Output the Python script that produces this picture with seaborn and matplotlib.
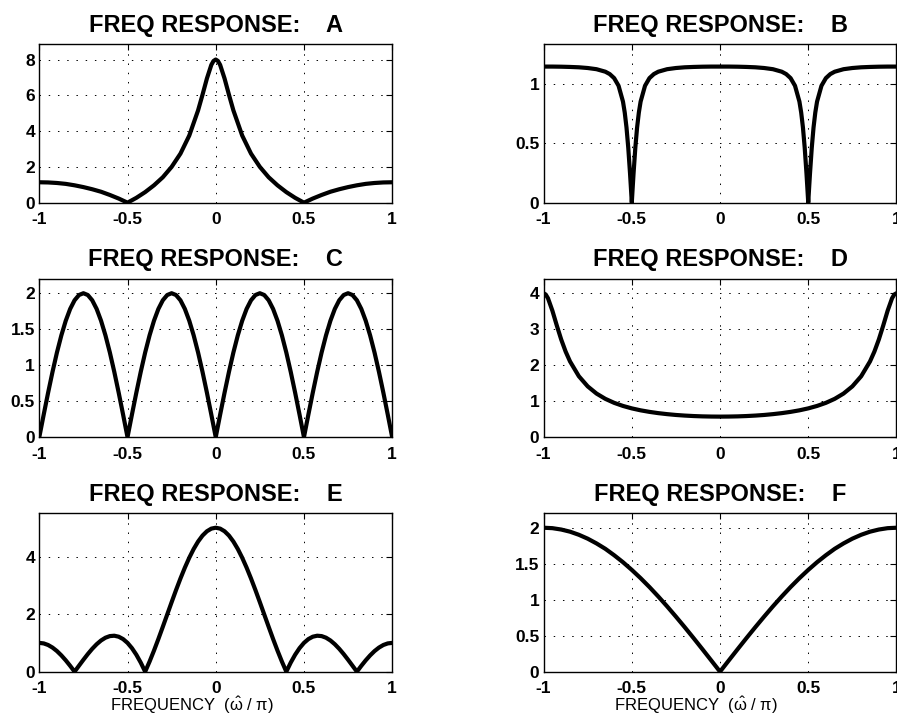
import matplotlib
matplotlib.use("Agg")
import matplotlib.pyplot as plt
import seaborn as sns

# --- values (frequency in units of pi) ---
freq_a = [-1, -0.95, -0.9, -0.85, -0.8, -0.75, -0.7, -0.65, -0.6, -0.55, -0.5,
          -0.45, -0.4, -0.35, -0.3, -0.25, -0.2, -0.15, -0.1, -0.075, -0.05,
          -0.025, -0.0125, 0, 0.0125, 0.025, 0.05, 0.075, 0.1, 0.15, 0.2, 0.25,
          0.3, 0.35, 0.4, 0.45, 0.5, 0.55, 0.6, 0.65, 0.7, 0.75, 0.8, 0.85, 0.9,
          0.95, 1]
mag_a = [1.14, 1.13, 1.10, 1.05, 0.97, 0.87, 0.75, 0.61, 0.43, 0.23, 0.00,
         0.27, 0.59, 0.97, 1.42, 2.00, 2.74, 3.75, 5.16, 6.03, 6.94,
         7.70, 7.92, 8.00, 7.92, 7.70, 6.94, 6.03, 5.16, 3.75, 2.74, 2.00,
         1.42, 0.97, 0.59, 0.27, 0.00, 0.23, 0.43, 0.61, 0.75, 0.87, 0.97, 1.05, 1.10,
         1.13, 1.14]

freq_b = [-1, -0.95, -0.9, -0.85, -0.8, -0.75, -0.7, -0.65, -0.625, -0.6, -0.575,
          -0.55, -0.54, -0.53, -0.52, -0.51, -0.505, -0.5, -0.495, -0.49, -0.48,
          -0.47, -0.46, -0.45, -0.425, -0.4, -0.375, -0.35, -0.3, -0.25, -0.2,
          -0.15, -0.1, -0.05, 0, 0.05, 0.1, 0.15, 0.2, 0.25, 0.3, 0.35, 0.375,
          0.4, 0.425, 0.45, 0.46, 0.47, 0.48, 0.49, 0.495, 0.5, 0.505, 0.51, 0.52,
          0.53, 0.54, 0.55, 0.575, 0.6, 0.625, 0.65, 0.7, 0.75, 0.8, 0.85, 0.9,
          0.95, 1]
mag_b = [1.143, 1.143, 1.142, 1.140, 1.137, 1.131, 1.121, 1.100, 1.080, 1.046, 0.982,
         0.849, 0.757, 0.631, 0.461, 0.246, 0.125, 0.000, 0.125, 0.246, 0.461,
         0.631, 0.757, 0.849, 0.982, 1.046, 1.080, 1.100, 1.121, 1.131, 1.137,
         1.140, 1.142, 1.143, 1.143, 1.143, 1.142, 1.140, 1.137, 1.131, 1.121, 1.100, 1.080,
         1.046, 0.982, 0.849, 0.757, 0.631, 0.461, 0.246, 0.125, 0.000, 0.125, 0.246, 0.461,
         0.631, 0.757, 0.849, 0.982, 1.046, 1.080, 1.100, 1.121, 1.131, 1.137, 1.140, 1.142,
         1.143, 1.143]

freq_grid = [-1, -0.95, -0.9, -0.85, -0.8, -0.75, -0.7, -0.65, -0.6, -0.55, -0.5,
             -0.45, -0.4, -0.35, -0.3, -0.25, -0.2, -0.15, -0.1, -0.05, 0,
             0.05, 0.1, 0.15, 0.2, 0.25, 0.3, 0.35, 0.4, 0.45, 0.5,
             0.55, 0.6, 0.65, 0.7, 0.75, 0.8, 0.85, 0.9, 0.95, 1]

freq_fine = [-1, -0.975, -0.95, -0.925, -0.9, -0.875, -0.85, -0.825, -0.8, -0.775,
             -0.75, -0.725, -0.7, -0.675, -0.65, -0.625, -0.6, -0.575, -0.55, -0.525,
             -0.5, -0.475, -0.45, -0.425, -0.4, -0.375, -0.35, -0.325, -0.3, -0.275,
             -0.25, -0.225, -0.2, -0.175, -0.15, -0.125, -0.1, -0.075, -0.05, -0.025,
             0, 0.025, 0.05, 0.075, 0.1, 0.125, 0.15, 0.175, 0.2, 0.225,
             0.25, 0.275, 0.3, 0.325, 0.35, 0.375, 0.4, 0.425, 0.45, 0.475,
             0.5, 0.525, 0.55, 0.575, 0.6, 0.625, 0.65, 0.675, 0.7, 0.725,
             0.75, 0.775, 0.8, 0.825, 0.85, 0.875, 0.9, 0.925, 0.95, 0.975, 1]

mag_c = [0.0, 0.313, 0.618, 0.908, 1.176, 1.414, 1.618, 1.782, 1.902, 1.975,
         2.0, 1.975, 1.902, 1.782, 1.618, 1.414, 1.176, 0.908, 0.618, 0.313,
         0.0, 0.313, 0.618, 0.908, 1.176, 1.414, 1.618, 1.782, 1.902, 1.975,
         2.0, 1.975, 1.902, 1.782, 1.618, 1.414, 1.176, 0.908, 0.618, 0.313,
         0.0, 0.313, 0.618, 0.908, 1.176, 1.414, 1.618, 1.782, 1.902, 1.975,
         2.0, 1.975, 1.902, 1.782, 1.618, 1.414, 1.176, 0.908, 0.618, 0.313,
         0.0, 0.313, 0.618, 0.908, 1.176, 1.414, 1.618, 1.782, 1.902, 1.975,
         2.0, 1.975, 1.902, 1.782, 1.618, 1.414, 1.176, 0.908, 0.618, 0.313, 0.0]

freq_d = [-1, -0.9875, -0.975, -0.95, -0.925, -0.9, -0.875, -0.85, -0.8, -0.75,
          -0.7, -0.65, -0.6, -0.55, -0.5, -0.45, -0.4, -0.35, -0.3, -0.25, -0.2,
          -0.15, -0.1, -0.05, 0, 0.05, 0.1, 0.15, 0.2, 0.25, 0.3, 0.35, 0.4, 0.45,
          0.5, 0.55, 0.6, 0.65, 0.7, 0.75, 0.8, 0.85, 0.875, 0.9, 0.925, 0.95,
          0.975, 0.9875, 1]
mag_d = [4.000, 3.963, 3.860, 3.514, 3.102, 2.713, 2.379, 2.104, 1.693, 1.412,
         1.212, 1.065, 0.954, 0.868, 0.800, 0.746, 0.703, 0.668, 0.640, 0.617, 0.600,
         0.587, 0.578, 0.573, 0.571, 0.573, 0.578, 0.587, 0.600, 0.617, 0.640, 0.668, 0.703, 0.746,
         0.800, 0.868, 0.954, 1.065, 1.212, 1.412, 1.693, 2.104, 2.379, 2.713, 3.102, 3.514,
         3.860, 3.963, 4.000]

mag_e = [1.000, 0.982, 0.927, 0.837, 0.716, 0.566, 0.394, 0.203, 0.000, 0.208,
         0.414, 0.612, 0.794, 0.953, 1.084, 1.180, 1.236, 1.249, 1.215, 1.132,
         1.000, 0.818, 0.589, 0.315, 0.000, 0.351, 0.732, 1.137, 1.558, 1.986,
         2.414, 2.834, 3.236, 3.613, 3.958, 4.262, 4.520, 4.727, 4.877, 4.969,
         5.000, 4.969, 4.877, 4.727, 4.520, 4.262, 3.958, 3.613, 3.236, 2.834,
         2.414, 1.986, 1.558, 1.137, 0.732, 0.351, 0.000, 0.315, 0.589, 0.818,
         1.000, 1.132, 1.215, 1.249, 1.236, 1.180, 1.084, 0.953, 0.794, 0.612,
         0.414, 0.208, 0.000, 0.203, 0.394, 0.566, 0.716, 0.837, 0.927, 0.982, 1.000]

mag_f = [2.000, 1.994, 1.975, 1.945, 1.902, 1.848, 1.782, 1.707, 1.618, 1.521, 1.414,
         1.299, 1.176, 1.045, 0.908, 0.765, 0.618, 0.467, 0.313, 0.157, 0.000,
         0.157, 0.313, 0.467, 0.618, 0.765, 0.908, 1.045, 1.176, 1.299, 1.414,
         1.521, 1.618, 1.707, 1.782, 1.848, 1.902, 1.945, 1.975, 1.994, 2.000]

panel_letters = ["A", "B", "C", "D", "E", "F"]
x_ticks = [-1, -0.5, 0, 0.5, 1]
x_tick_labels = ["-1", "-0.5", "0", "0.5", "1"]
y_ticks = [[0, 2, 4, 6, 8], [0, 0.5, 1], [0, 0.5, 1, 1.5, 2],
           [0, 1, 2, 3, 4], [0, 2, 4], [0, 0.5, 1, 1.5, 2]]
y_tops = [8.85, 1.33, 2.2, 4.4, 5.5, 2.2]
x_label = r"FREQUENCY  ($\hat{\mathrm{\omega}}$ / $\mathrm{\pi}$)"

sns.set_theme(style="white")
plt.rcParams["font.family"] = ["Liberation Sans", "DejaVu Sans"]
plt.rcParams["mathtext.fontset"] = "custom"
plt.rcParams["mathtext.rm"] = "Liberation Sans"
plt.rcParams["mathtext.it"] = "Liberation Sans:italic"
plt.rcParams["axes.unicode_minus"] = False
plt.rcParams["text.color"] = "black"
plt.rcParams["axes.titlecolor"] = "black"

curves = [(freq_a, mag_a), (freq_b, mag_b), (freq_fine, mag_c),
          (freq_d, mag_d), (freq_fine, mag_e), (freq_grid, mag_f)]

fig, axes = plt.subplots(3, 2, figsize=(8.97, 7.16), dpi=100)
fig.subplots_adjust(left=0.0438, right=0.9994, bottom=0.0619, top=0.9381,
                    wspace=0.429, hspace=0.481)

for i, ax in enumerate(axes.flat):
    x, y = curves[i]
    sns.lineplot(x=x, y=y, ax=ax, color="black", linewidth=3,
                 sort=False, estimator=None)
    ax.set_xlim(-1, 1)
    ax.set_ylim(0, y_tops[i])
    ax.set_xticks(x_ticks, x_tick_labels, fontsize=12.5, fontweight="bold")
    ax.set_yticks(y_ticks[i], [f"{v:g}" for v in y_ticks[i]],
                  fontsize=12.5, fontweight="bold")
    ax.tick_params(direction="in", length=4, width=0.8, top=True, right=True,
                   colors="black")
    ax.tick_params(axis="x", pad=7)
    ax.tick_params(axis="y", pad=3)
    ax.grid(True, color="black", linestyle=(0, (1.5, 8)), linewidth=0.7)
    for s in ax.spines.values():
        s.set_visible(True)
        s.set_color("black")
        s.set_linewidth(1.0)
    ax.set_xlabel("")
    ax.set_ylabel("")
    ax.set_title(f"FREQ RESPONSE:    {panel_letters[i]}", fontsize=17,
                 fontweight="bold", pad=9, color="black")

# frequency label under the bottom row
for ax in axes[2]:
    ax.text(0.433, -0.25, x_label, transform=ax.transAxes, ha="center",
            va="baseline", fontsize=12, color="black")

fig.savefig("out.png", dpi=100)
